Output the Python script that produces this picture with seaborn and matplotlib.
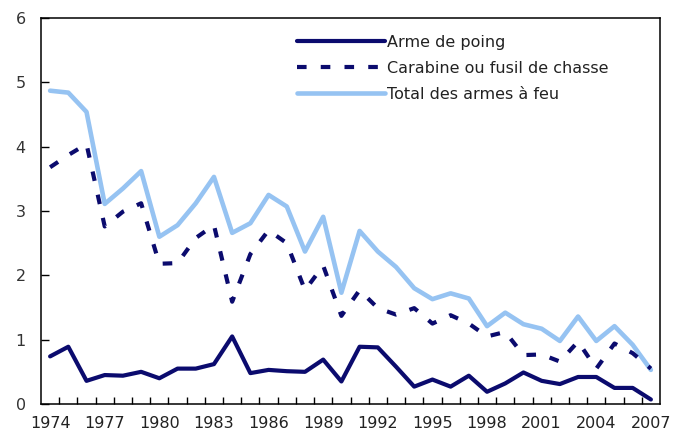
"""Taux d'homicides par arme a feu, 1974-2007."""

import matplotlib
matplotlib.use("Agg")
import matplotlib.pyplot as plt
import pandas as pd
import seaborn as sns

years = list(range(1974, 2008))

arme_de_poing = [
    0.74, 0.89, 0.36, 0.45, 0.44, 0.50, 0.40, 0.55, 0.55, 0.62,
    1.05, 0.48, 0.53, 0.51, 0.50, 0.69, 0.35, 0.89, 0.88, 0.58,
    0.27, 0.38, 0.27, 0.44, 0.19, 0.32, 0.49, 0.36, 0.31, 0.42,
    0.42, 0.25, 0.25, 0.07,
]
carabine = [
    3.68, 3.87, 4.04, 2.76, 2.99, 3.12, 2.18, 2.19, 2.58, 2.78,
    1.59, 2.33, 2.70, 2.50, 1.77, 2.15, 1.37, 1.77, 1.49, 1.39,
    1.49, 1.25, 1.38, 1.25, 1.05, 1.12, 0.76, 0.77, 0.66, 0.97,
    0.55, 0.94, 0.79, 0.55,
]
total = [
    4.87, 4.84, 4.54, 3.11, 3.35, 3.62, 2.60, 2.78, 3.12, 3.53,
    2.66, 2.81, 3.25, 3.07, 2.37, 2.91, 1.73, 2.69, 2.37, 2.13,
    1.80, 1.63, 1.72, 1.64, 1.21, 1.42, 1.24, 1.17, 0.98, 1.36,
    0.98, 1.21, 0.92, 0.53,
]

labels = ["Arme de poing", "Carabine ou fusil de chasse", "Total des armes à feu"]
tick_years = list(range(1974, 2008, 3))

df = pd.DataFrame({
    "year": years * 3,
    "value": arme_de_poing + carabine + total,
    "series": [labels[0]] * 34 + [labels[1]] * 34 + [labels[2]] * 34,
})

NAVY = "#0b0b6e"
LIGHT = "#96c3f2"

sns.set_theme(style="white")
plt.rcParams["font.family"] = ["DejaVu Sans"]

fig = plt.figure(figsize=(6.84, 4.32), dpi=100)
ax = fig.add_axes([41 / 684, 28 / 432, 619 / 684, 386 / 432])

styles = {
    labels[2]: dict(color=LIGHT, lw=3.3, dashes=None),
    labels[1]: dict(color=NAVY, lw=3.0, dashes=(2.3, 3.4)),
    labels[0]: dict(color=NAVY, lw=3.0, dashes=None),
}
handles = {}
for name in [labels[2], labels[1], labels[0]]:
    st = styles[name]
    sub = df[df["series"] == name]
    sns.lineplot(data=sub, x="year", y="value", color=st["color"],
                 linewidth=st["lw"], ax=ax, legend=False)
    line = ax.lines[-1]
    if st["dashes"]:
        line.set_dashes(st["dashes"])
        line.set_dash_capstyle("butt")
    handles[name] = line

ax.set_xlim(1973.5, 2007.5)
ax.set_ylim(0, 6)
ax.set_xticks(tick_years)
ax.set_xticks([y + 0.5 for y in years[:-1]], minor=True)
ax.set_yticks(range(0, 7))
ax.tick_params(axis="x", which="major", length=0, pad=9,
               labelsize=11.5, labelcolor="#222222")
ax.tick_params(axis="x", which="minor", direction="in", length=5,
               width=1, color="black", bottom=True)
ax.tick_params(axis="y", direction="in", length=6, width=1, color="black",
               left=True, pad=11, labelsize=11.5, labelcolor="#333333")
ax.set_xlabel("")
ax.set_ylabel("")
for sp in ax.spines.values():
    sp.set_visible(True)
    sp.set_color("black")
    sp.set_linewidth(1.1)

leg = ax.legend([handles[n] for n in labels], labels, loc="upper left",
                bbox_to_anchor=(0.414, 0.956), frameon=False, fontsize=11.5,
                handlelength=5.5, handletextpad=0.1, labelspacing=0.68,
                borderpad=0, borderaxespad=0)
for t in leg.get_texts():
    t.set_color("#222222")

fig.savefig("out.png", dpi=100)
